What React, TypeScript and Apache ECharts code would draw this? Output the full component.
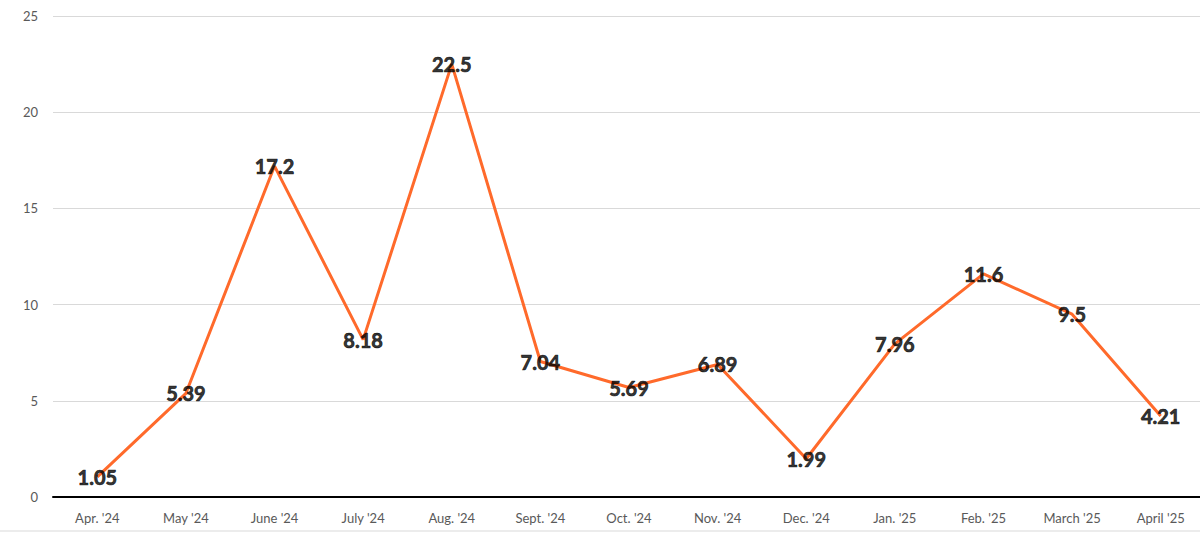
import { useEffect, useRef } from 'react';
import * as echarts from 'echarts';

const months = [
  "Apr. '24", "May '24", "June '24", "July '24", "Aug. '24", "Sept. '24",
  "Oct. '24", "Nov. '24", "Dec. '24", "Jan. '25", "Feb. '25", "March '25", "April '25",
];
const values = [1.05, 5.39, 17.2, 8.18, 22.5, 7.04, 5.69, 6.89, 1.99, 7.96, 11.6, 9.5, 4.21];
const yTicks = [0, 5, 10, 15, 20, 25];

const colors = {
  line: '#ff6a2b',
  label: '#000000',
  axisText: '#595959',
  grid: '#d9d9d9',
  axis: '#000000',
};

export default function App() {
  const chartRef = useRef<HTMLDivElement>(null);

  useEffect(() => {
    if (!chartRef.current) return;
    const chart = echarts.init(chartRef.current, undefined, { renderer: 'svg' });

    const option: any = {
      animation: false,
      backgroundColor: '#ffffff',
      grid: { left: 53, top: 16, width: 1152, bottom: 37, outerBoundsMode: 'none', containLabel: false },
      xAxis: {
        type: 'category',
        data: months,
        boundaryGap: true,
        axisLine: { lineStyle: { color: colors.axis, width: 2 } },
        axisTick: { show: false },
        axisLabel: {
          color: colors.axisText,
          fontFamily: 'Lato',
          fontSize: 13,
          margin: 14,
          interval: 0,
        },
      },
      yAxis: {
        type: 'value',
        min: yTicks[0],
        max: yTicks[yTicks.length - 1],
        interval: 5,
        axisLine: { show: false },
        axisTick: { show: false },
        axisLabel: {
          color: colors.axisText,
          fontFamily: 'Lato',
          fontSize: 13,
          margin: 15,
        },
        splitLine: { lineStyle: { color: colors.grid, width: 1 } },
      },
      graphic: [
        {
          type: 'line',
          shape: { x1: 0, y1: 531, x2: 1200, y2: 531 },
          style: { stroke: '#d9d9d9', lineWidth: 1 },
          silent: true,
        },
      ],
      series: [
        {
          type: 'line',
          data: values,
          symbol: 'none',
          lineStyle: { color: colors.line, width: 3 },
          z: 2,
        },
        {
          // value labels sit centred on each point, above the line
          type: 'scatter',
          data: values,
          symbolSize: 2,
          itemStyle: { color: 'rgba(0,0,0,0)' },
          z: 3,
          label: {
            show: true,
            position: 'inside',
            color: colors.label,
            fontFamily: 'Lato',
            fontWeight: 'bold',
            fontSize: 20,
            textBorderColor: colors.label,
            textBorderWidth: 0.7,
          },
        },
      ],
    };

    chart.setOption(option);
    return () => chart.dispose();
  }, []);

  return (
    <div
      ref={chartRef}
      style={{ position: 'absolute', left: 0, top: 0, width: 1200, height: 534 }}
    />
  );
}
